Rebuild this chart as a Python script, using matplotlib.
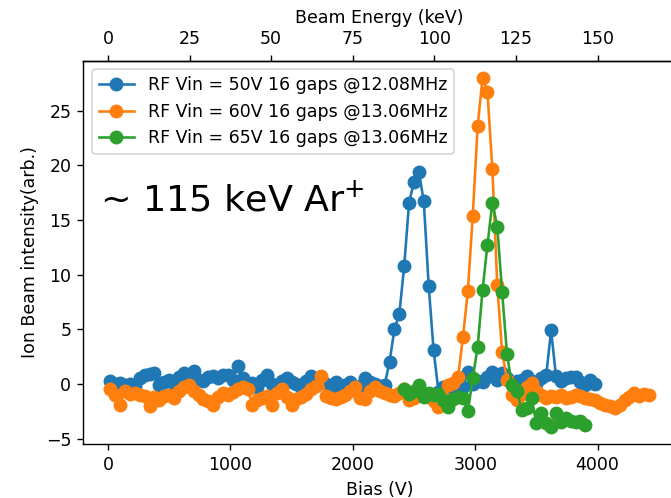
import matplotlib
matplotlib.use('Agg')
import matplotlib.pyplot as plt
import numpy as np

# bias grid: 40 V steps starting at 20 V
bias_50 = np.arange(20, 3981, 40)
bias_60 = np.arange(20, 4421, 40)
bias_65 = np.arange(2420, 3901, 40)

ion_50 = [0.3, 0.0, 0.1, -0.1, 0.0, -0.2, 0.5, 0.8, 0.9, 1.0,
          -0.1, 0.2, 0.4, 0.0, 0.6, 1.0, 0.3, 1.2, 0.4, 0.3,
          0.6, 0.7, 0.5, 0.8, 0.8, 0.4, 1.6, 0.5, -0.2, 0.1,
          -0.3, 0.4, 0.8, 0.0, -0.2, 0.3, 0.5, 0.2, 0.0, -0.3,
          0.3, 0.7, 0.3, 0.4, 0.0, -0.4, 0.2, -0.2, -0.1, 0.2,
          -0.3, -0.2, 0.5, 0.2, 0.0, -0.2, -0.1, 2.0, 5.0, 6.4,
          10.8, 16.6, 18.5, 19.4, 16.7, 9.0, 3.1, -0.7, -0.3, -0.5,
          -0.2, 0.0, -0.3, 1.1, 0.0, 0.3, 0.2, 0.6, 1.1, 0.4,
          1.0, 0.5, 0.0, 0.3, 0.4, 0.7, 0.3, 0.0, 0.5, 0.8,
          4.9, 0.7, 0.3, 0.5, 0.6, 0.6, 0.2, -0.1, 0.4, 0.0]

ion_60 = [-0.5, -1.0, -1.9, -0.6, -0.9, -0.8, -1.0, -1.1, -2.0, -1.2,
          -1.5, -1.1, -1.0, -1.3, -0.6, -0.3, -0.1, -0.6, -1.0, -1.4,
          -1.6, -1.9, -1.2, -0.8, -1.0, -0.7, -0.5, -0.3, -0.5, -1.9,
          -1.5, -1.3, -1.1, -1.9, -0.8, -0.5, -1.2, -1.9, -1.4, -1.2,
          -0.9, -0.5, -0.2, 0.7, -1.1, -1.3, -1.4, -1.2, -1.0, -0.6,
          -0.3, -1.3, -1.4, -0.6, -0.3, -0.6, -0.8, -1.0, -1.1, -0.8,
          -0.5, -1.5, -1.3, -0.9, -0.8, -1.2, -1.6, -2.1, -1.2, -0.1,
          0.1, 0.6, 4.3, 8.5, 15.4, 23.6, 28.0, 26.7, 19.7, 9.1,
          2.9, 0.4, -1.0, -1.5, -0.9, -0.3, 0.1, -0.6, -1.0, -1.3,
          -1.1, -1.2, -1.0, -1.3, -1.2, -1.0, -1.1, -1.3, -1.4, -1.5,
          -1.7, -1.9, -2.0, -2.2, -1.9, -1.5, -1.2, -0.8, -1.1, -0.9,
          -1.0]

ion_65 = [-0.5, -0.9, -0.6, -0.1, -1.2, -0.8, -1.0, -0.9, -1.5, -2.1,
          -1.4, -1.2, -1.3, -2.5, 0.5, 3.4, 8.6, 12.7, 16.6, 14.4,
          8.4, 2.7, -0.1, -0.6, -2.4, -2.2, -1.3, -3.6, -2.7, -3.6,
          -3.9, -2.7, -3.5, -3.1, -3.4, -3.5, -3.4, -3.8]

fig = plt.figure(figsize=(5.368, 3.984), dpi=125)
ax = fig.add_axes([0.1244, 0.1084, 0.883, 0.7701])

ax.plot(bias_50, ion_50, 'o-', ms=7, label='RF Vin = 50V 16 gaps @12.08MHz')
ax.plot(bias_60, ion_60, 'o-', ms=7, label='RF Vin = 60V 16 gaps @13.06MHz')
ax.plot(bias_65, ion_65, 'o-', ms=7, label='RF Vin = 65V 16 gaps @13.06MHz')

ax.set_xlabel('Bias (V)')
ax.set_ylabel('Ion Beam intensity(arb.)')
ax.legend(loc='upper left')

ax.text(-65, 15.8, '~ 115 keV Ar$^{+}$', fontsize=21)

top = ax.secondary_xaxis('top', functions=(lambda v: v * 0.0375, lambda e: e / 0.0375))
top.set_xticks([0, 25, 50, 75, 100, 125, 150])
top.set_xlabel('Beam Energy (keV)')

fig.savefig('out.png', dpi=125)
